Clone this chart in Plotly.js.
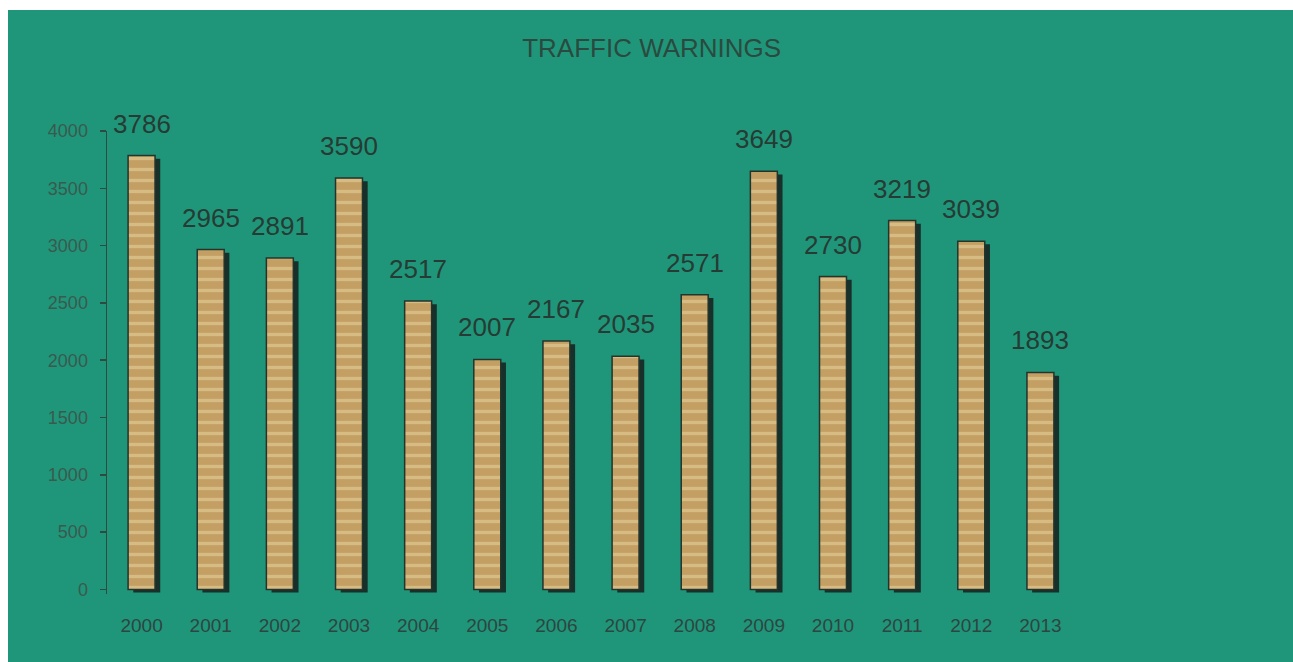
<!DOCTYPE html>
<html>
<head>
<meta charset="utf-8">
<script src="https://cdn.plot.ly/plotly-3.0.1.min.js"></script>
<style>html,body{margin:0;padding:0;background:#fff;}#chart{width:1293px;height:662px;}</style>
</head>
<body>
<div id="chart"></div>
<script>
const years = ['2000','2001','2002','2003','2004','2005','2006','2007','2008','2009','2010','2011','2012','2013'];
const warnings = [3786, 2965, 2891, 3590, 2517, 2007, 2167, 2035, 2571, 3649, 2730, 3219, 3039, 1893];
const yTicks = [0, 500, 1000, 1500, 2000, 2500, 3000, 3500, 4000];

const barW = 0.39;
const FONT = 'Liberation Sans, Arial, sans-serif';

const shadow = {
  type: 'bar', x: years, y: warnings, base: -28,
  width: barW, offset: -barW/2 + 0.075,
  marker: {color: '#17302a', line: {width: 0}},
  hoverinfo: 'skip', showlegend: false
};
const bars = {
  type: 'bar', x: years, y: warnings,
  width: barW, offset: -barW/2,
  marker: {
    color: '#c6a265',
    line: {width: 1.5, color: '#24342c'},
    pattern: {shape: '-', size: 11, solidity: 0.3, fgcolor: '#d6bb82', bgcolor: '#c39f63', fillmode: 'replace'}
  },
  showlegend: false
};

const annotations = years.map((yr, i) => ({
  x: i, y: warnings[i], xref: 'x', yref: 'y', text: String(warnings[i]),
  showarrow: false, xanchor: 'center', yanchor: 'middle', yshift: 32,
  font: {family: FONT, size: 26, color: '#263b33'}
}));

const layout = {
  width: 1293, height: 662,
  margin: {l: 107, r: 218, t: 131, b: 68},
  paper_bgcolor: '#ffffff',
  plot_bgcolor: 'rgba(0,0,0,0)',
  barmode: 'overlay',
  title: {
    text: 'TRAFFIC WARNINGS',
    x: 0.504, xref: 'container', y: 0.928, yref: 'container', xanchor: 'center', yanchor: 'middle',
    font: {family: FONT, size: 26, color: '#2b4a3f'}
  },
  xaxis: {
    type: 'category', range: [-0.5, 13.5],
    showline: false, showgrid: false, zeroline: false, ticks: '',
    ticklabelstandoff: 18,
    tickfont: {family: FONT, size: 19, color: '#2e4540'}
  },
  yaxis: {
    range: [-40, 4000], tickvals: yTicks,
    showline: true, linecolor: '#2f4a40', linewidth: 1.5,
    ticks: 'outside', ticklen: 6, tickcolor: '#2f4a40', tickwidth: 1.5,
    ticklabelstandoff: 8,
    showgrid: false, zeroline: false,
    tickfont: {family: FONT, size: 18, color: '#3a5a4e'}
  },
  shapes: [{
    type: 'rect', layer: 'below', xref: 'paper', yref: 'paper',
    x0: (8 - 107) / 968, x1: (1293 - 107) / 968,
    y0: -68 / 463, y1: (652 - 68) / 463,
    fillcolor: '#1f967a', line: {width: 0}
  }],
  annotations: annotations
};

Plotly.newPlot('chart', [shadow, bars], layout, {displayModeBar: false, staticPlot: true});
</script>
</body>
</html>
